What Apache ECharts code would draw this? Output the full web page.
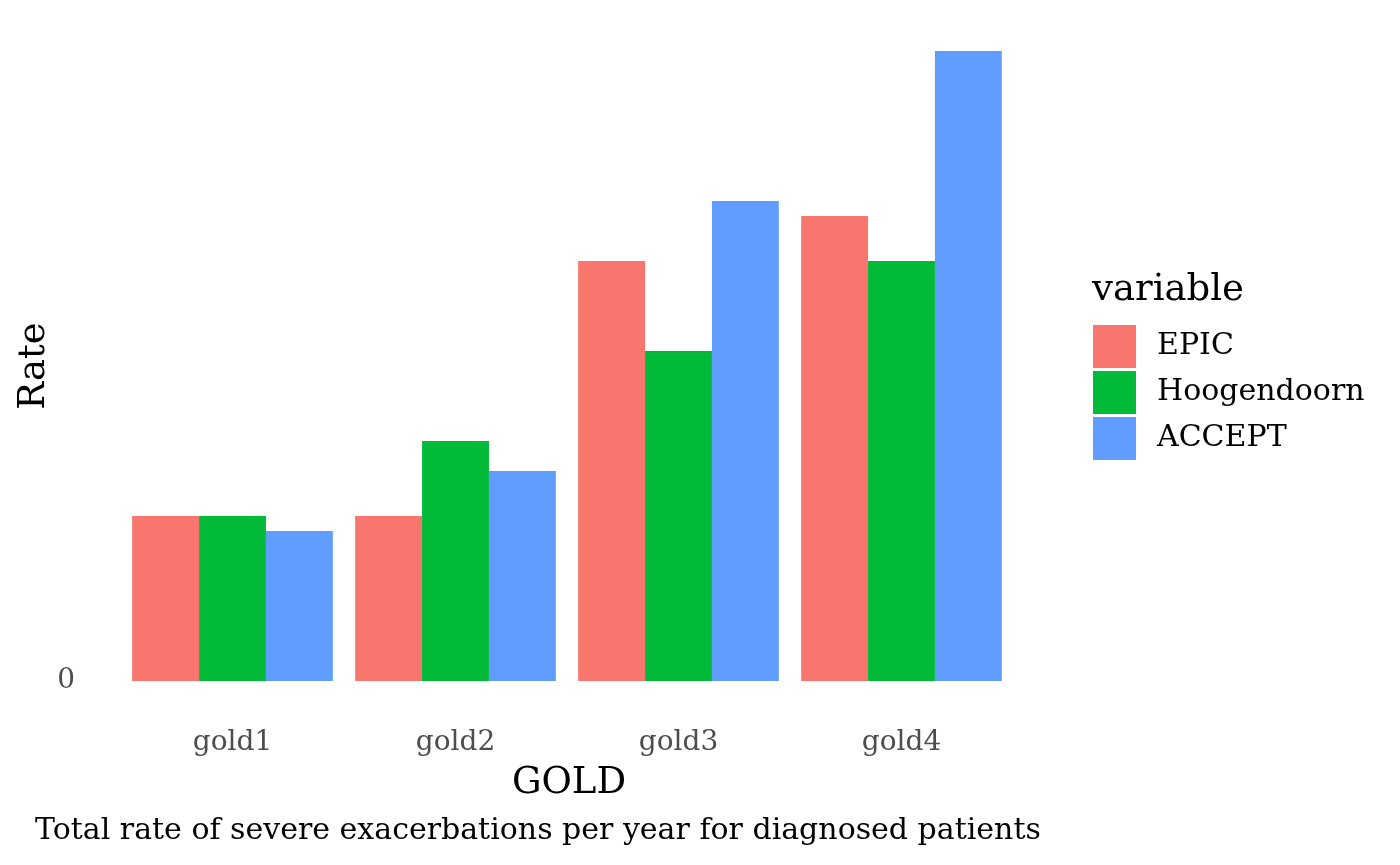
<!DOCTYPE html>
<html><head><meta charset="utf-8">
<script src="https://cdn.jsdelivr.net/npm/echarts@6/dist/echarts.min.js"></script>
<style>html,body{margin:0;padding:0;background:#fff}#c{width:1400px;height:865px}</style>
</head><body><div id="c"></div>
<script>
const categories = ['gold1','gold2','gold3','gold4'];
const seriesNames = ['EPIC','Hoogendoorn','ACCEPT'];
const epic = [0.11, 0.11, 0.28, 0.31];
const hoogendoorn = [0.11, 0.16, 0.22, 0.28];
const accept = [0.10, 0.14, 0.32, 0.42];
const colors = ['#F8766D','#00BA38','#619CFF'];
const font = 'DejaVu Serif';

const chart = echarts.init(document.getElementById('c'));
const data = [epic, hoogendoorn, accept];
chart.setOption({
  animation:false,
  textStyle:{fontFamily:font},
  grid:{left:121, top:21, width:892, height:660},
  xAxis:{type:'category', data:categories,
    axisLine:{show:false}, axisTick:{show:false}, splitLine:{show:false},
    axisLabel:{color:'#4d4d4d', fontSize:28, margin:48, fontFamily:font}},
  yAxis:{type:'value', min:0, max:0.44, interval:0.44,
    axisLine:{show:false}, axisTick:{show:false}, splitLine:{show:false},
    axisLabel:{color:'#4d4d4d', fontSize:28, margin:46, fontFamily:font, padding:[4,0,0,0],
      formatter:v=> v===0 ? '0' : ''}},
  legend:{orient:'vertical', left:1088, top:320, itemWidth:43, itemHeight:43, itemGap:3,
    icon:'rect', data:seriesNames,
    textStyle:{fontSize:30, color:'#000', fontFamily:font, padding:[5,0,0,16]}},
  graphic:[
    {type:'text', x:1092, y:290, style:{text:'variable', fontSize:37, fontFamily:font, fill:'#000', align:'left', verticalAlign:'middle'}},
    {type:'text', x:569, y:783, style:{text:'GOLD', fontSize:37, fontFamily:font, fill:'#000', align:'center', verticalAlign:'middle'}},
    {type:'text', x:34, y:366, rotation:Math.PI/2, style:{text:'Rate', fontSize:37, fontFamily:font, fill:'#000', align:'center', verticalAlign:'middle'}},
    {type:'text', x:35, y:831, style:{text:'Total rate of severe exacerbations per year for diagnosed patients', fontSize:30, fontFamily:font, fill:'#000', align:'left', verticalAlign:'middle'}}
  ],
  series: seriesNames.map((n,i)=>({
    name:n, type:'bar', data:data[i], barGap:'0%', barCategoryGap:'10%',
    itemStyle:{color:colors[i]}
  }))
});
</script></body></html>
